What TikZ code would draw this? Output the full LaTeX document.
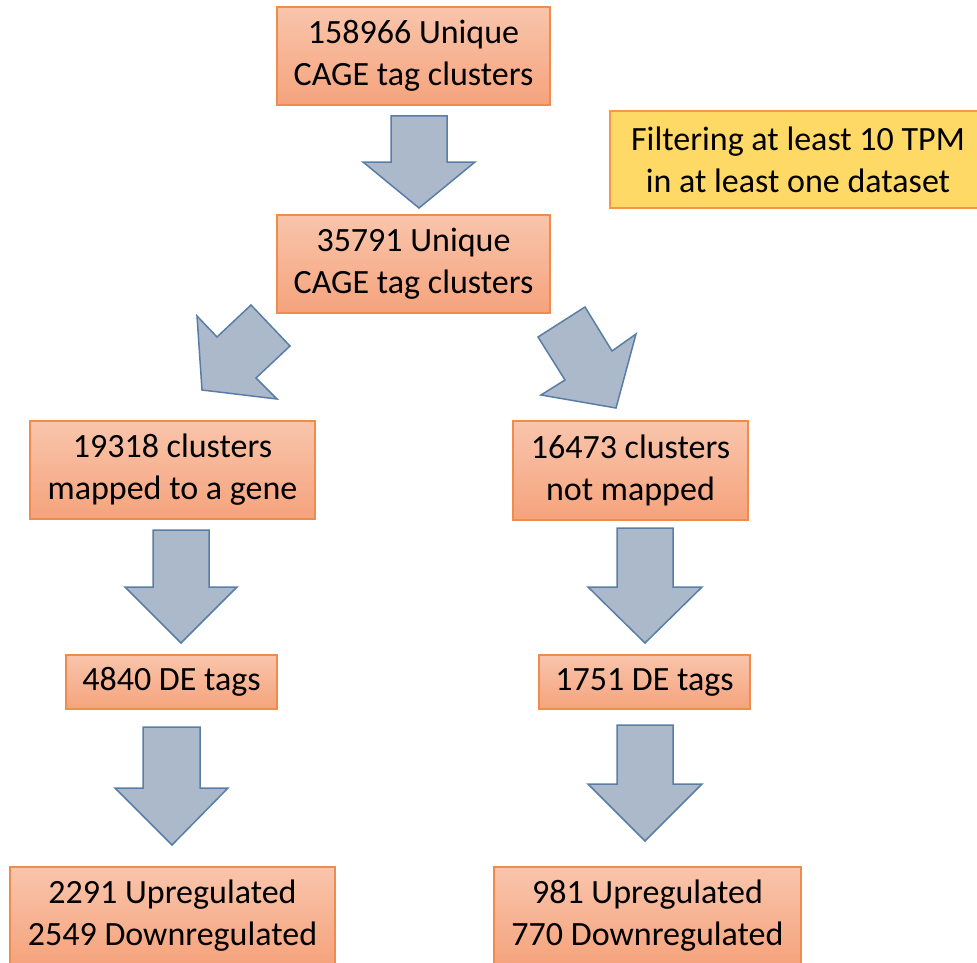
\documentclass[tikz,border=0pt]{standalone}
\usepackage{fontspec}
\setmainfont{Carlito}
\definecolor{boxtop}{RGB}{249,197,172}
\definecolor{boxbot}{RGB}{245,163,124}
\definecolor{boxline}{RGB}{240,140,75}
\definecolor{yelfill}{RGB}{255,217,102}
\definecolor{yelline}{RGB}{246,150,70}
\definecolor{arrfill}{RGB}{172,185,202}
\definecolor{arrline}{RGB}{88,126,168}
\begin{document}
\begin{tikzpicture}[x=1pt,y=-1pt,
  box/.style={draw=boxline,line width=1.5pt,top color=boxtop,bottom color=boxbot,
    inner sep=0pt,align=center,font=\fontsize{34}{42}\selectfont},
  note/.style={draw=yelline,line width=1.5pt,fill=yelfill,
    inner sep=0pt,align=center,font=\fontsize{34}{42}\selectfont},
  blockarrow/.style={draw=arrline,line width=1.5pt,fill=arrfill,line join=miter}]
\useasboundingbox (0,0) rectangle (977,963);
\fill[white] (0,0) rectangle (977,963);

\node[box,minimum width=273pt,minimum height=98pt] (b1) at (413.5,56) {158966 Unique\\CAGE tag clusters};
\node[box,minimum width=273pt,minimum height=98pt] (b2) at (413.5,264) {35791 Unique\\CAGE tag clusters};
\node[note,minimum width=376pt,minimum height=97pt] (f) at (798,159.5) {Filtering at least 10 TPM\\in at least one dataset};
\node[box,minimum width=285pt,minimum height=98pt] (b3) at (172.5,470) {19318 clusters\\mapped to a gene};
\node[box,minimum width=235pt,minimum height=99pt] (b4) at (630.5,470.5) {16473 clusters\\not mapped};
\node[box,minimum width=211pt,minimum height=54pt] (b5) at (171.5,682) {4840 DE tags};
\node[box,minimum width=211pt,minimum height=54pt] (b6) at (644.5,682) {1751 DE tags};
\node[box,minimum width=325pt,minimum height=98pt] (b7) at (172.5,916) {2291 Upregulated\\2549 Downregulated};
\node[box,minimum width=307pt,minimum height=98pt] (b8) at (647.5,916) {981 Upregulated\\770 Downregulated};

% block arrows
\draw[blockarrow] (391,116) -- (447,116) -- (447,162) -- (475,162) -- (419,208) -- (363,162) -- (391,162) -- cycle;
\draw[blockarrow] (202,390) -- (197,316) -- (217,337) -- (251,305) -- (290,346) -- (256,378) -- (277,399) -- cycle;
\draw[blockarrow] (616,408) -- (541,395) -- (565,380) -- (538,337) -- (585,307) -- (612,351) -- (636,334) -- cycle;
\draw[blockarrow] (153,530) -- (209,530) -- (209,587) -- (237,587) -- (181,643) -- (125,587) -- (153,587) -- cycle;
\draw[blockarrow] (617,528) -- (673,528) -- (673,587) -- (702,587) -- (645,643) -- (588,587) -- (617,587) -- cycle;
\draw[blockarrow] (143,727) -- (200,727) -- (200,788) -- (228,788) -- (172,845) -- (115,788) -- (143,788) -- cycle;
\draw[blockarrow] (617,725) -- (673,725) -- (673,784) -- (702,784) -- (645,841) -- (588,784) -- (617,784) -- cycle;
\end{tikzpicture}
\end{document}
